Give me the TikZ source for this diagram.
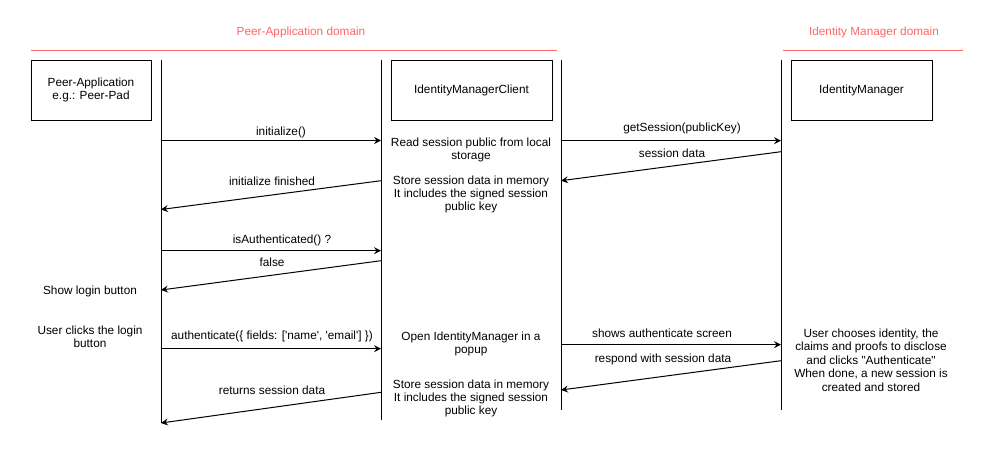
\documentclass[tikz,border=0pt]{standalone}
\usepackage{fontspec}
\setmainfont{Liberation Sans}[Ligatures=TeXOff]
\usetikzlibrary{arrows.meta}
\definecolor{dom}{HTML}{FF6666}
\begin{document}
\begin{tikzpicture}[x=1pt,y=-1pt,
  every node/.style={font=\fontsize{11.8}{13.4}\selectfont, inner sep=0pt, align=center},
  box/.style={draw, line width=1pt, minimum height=60pt},
  life/.style={line width=1pt},
  msg/.style={line width=1pt, -{Stealth[length=7pt,width=7pt,inset=2.5pt]}},
  domline/.style={draw=dom, line width=1pt},
  domtxt/.style={text=dom}]
\useasboundingbox (0,0) rectangle (990,456);

% domains
\node[domtxt] (d1t) at (301,32) {Peer-Application domain};
\node[domtxt] (d2t) at (874,32) {Identity Manager domain};
\coordinate (d1a) at (31,50);
\coordinate (d1b) at (557,50);
\coordinate (d2a) at (783,50);
\coordinate (d2b) at (963,50);
\draw[domline] (d1a) -- (d1b);
\draw[domline] (d2a) -- (d2b);

% participant boxes
\node[box, minimum width=120pt] (pa) at (91,90) {Peer-Application\\e.g.: Peer-Pad};
\node[box, minimum width=161pt] (imc) at (471.5,90) {IdentityManagerClient};
\node[box, minimum width=141pt] (im) at (861.5,90) {IdentityManager};

% lifelines
\coordinate (l1t) at (161,60);  \coordinate (l1b) at (161,423);
\coordinate (l2t) at (381,60);  \coordinate (l2b) at (381,420);
\coordinate (l3t) at (561,60);  \coordinate (l3b) at (561,410);
\coordinate (l4t) at (781,60);  \coordinate (l4b) at (781,410);
\draw[life] (l1t) -- (l1b);
\draw[life] (l2t) -- (l2b);
\draw[life] (l3t) -- (l3b);
\draw[life] (l4t) -- (l4b);

% message end points
\coordinate (m1a) at (161,140.5);  \coordinate (m1b) at (381,140.5);
\coordinate (m2a) at (381,180.7);  \coordinate (m2b) at (161,209.5);
\coordinate (m3a) at (161,250.7);  \coordinate (m3b) at (381,250.7);
\coordinate (m4a) at (381,260.7);  \coordinate (m4b) at (161,290);
\coordinate (m5a) at (161,348.7);  \coordinate (m5b) at (381,348.7);
\coordinate (m6a) at (381,392.3);  \coordinate (m6b) at (161,423);
\coordinate (m7a) at (561,140.7);  \coordinate (m7b) at (781,140.7);
\coordinate (m8a) at (781,151.7);  \coordinate (m8b) at (561,180.7);
\coordinate (m9a) at (561,344.7);  \coordinate (m9b) at (781,344.7);
\coordinate (m10a) at (781,360.7); \coordinate (m10b) at (561,390);

\draw[msg] (m1a) -- (m1b);
\draw[msg] (m2a) -- (m2b);
\draw[msg] (m3a) -- (m3b);
\draw[msg] (m4a) -- (m4b);
\draw[msg] (m5a) -- (m5b);
\draw[msg] (m6a) -- (m6b);
\draw[msg] (m7a) -- (m7b);
\draw[msg] (m8a) -- (m8b);
\draw[msg] (m9a) -- (m9b);
\draw[msg] (m10a) -- (m10b);

% message labels
\node (t1) at (281,132) {initialize()};
\node (t2) at (272,181.5) {initialize finished};
\node (t3) at (282,240) {isAuthenticated() ?};
\node (t4) at (272,262.7) {false};
\node (t5) at (272,336.7) {authenticate(\{ fields: ['name', 'email'] \})};
\node (t6) at (272,390.7) {returns session data};
\node (t7) at (682,128.3) {getSession(publicKey)};
\node (t8) at (672,153.3) {session data};
\node (t9) at (662,333) {shows authenticate screen};
\node (t10) at (663,359.3) {respond with session data};

% notes
\node (n1) at (471,150) {Read session public from local\\storage};
\node (n2) at (471,194.5) {Store session data in memory\\It includes the signed session\\public key};
\node (n3) at (471,344) {Open IdentityManager in a\\popup};
\node (n4) at (471,398.5) {Store session data in memory\\It includes the signed session\\public key};
\node (n5) at (871,360) {User chooses identity, the\\claims and proofs to disclose\\and clicks "Authenticate"\\When done, a new session is\\created and stored};
\node (n6) at (90,291) {Show login button};
\node (n7) at (90,337) {User clicks the login\\button};
\end{tikzpicture}
\end{document}
